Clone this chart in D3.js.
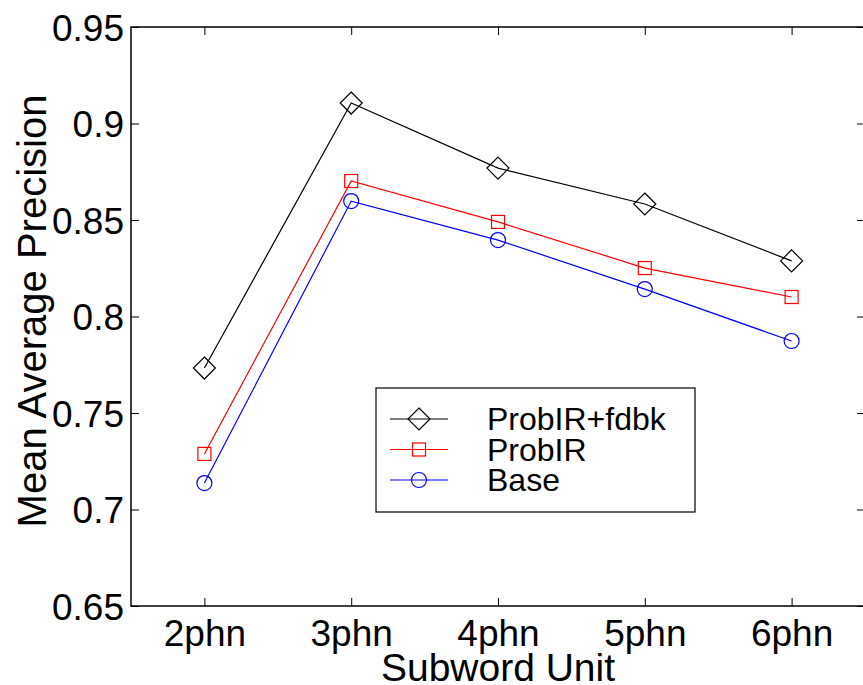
<!DOCTYPE html>
<html><head><meta charset="utf-8">
<script src="https://cdn.jsdelivr.net/npm/d3@7"></script>
<style>body{margin:0;background:#fff}svg{display:block}text{font-family:"Liberation Sans",Arial,sans-serif}</style>
</head><body>
<svg id="c" width="863" height="685"></svg>
<script>
const categories = ["2phn","3phn","4phn","5phn","6phn"];
const probirFdbk = [0.7733,0.9106,0.8769,0.8583,0.8288];
const probir = [0.7288,0.8702,0.8490,0.8251,0.8101];
const base = [0.7137,0.8598,0.8396,0.8142,0.7873];
const yTicks = [0.65,0.7,0.75,0.8,0.85,0.9,0.95];
const seriesNames = ["ProbIR+fdbk","ProbIR","Base"];

const svg = d3.select("#c");
const L=131, R=865, T=27, B=606;
const x = d3.scaleLinear().domain([0.5,5.5]).range([L,R]);
const y = d3.scaleLinear().domain([0.65,0.95]).range([B,T]);
const fs = 37;

svg.append("rect").attr("x",L).attr("y",T).attr("width",R-L).attr("height",B-T)
  .attr("fill","none").attr("stroke","#000").attr("stroke-width",1.5);

const ya = svg.append("g").attr("transform",`translate(${L},0)`)
  .call(d3.axisLeft(y).tickValues(yTicks).tickSize(-8).tickPadding(7).tickFormat(d=>String(+d.toFixed(2))));
ya.select(".domain").remove();
ya.selectAll("text").attr("font-size",fs).attr("fill","#000").attr("font-family","Liberation Sans, Arial, sans-serif").attr("dy","0.36em");
const ya2 = svg.append("g").attr("transform",`translate(${R},0)`)
  .call(d3.axisRight(y).tickValues(yTicks).tickSize(-8).tickFormat(""));
ya2.select(".domain").remove();

const xa = svg.append("g").attr("transform",`translate(0,${B})`)
  .call(d3.axisBottom(x).tickValues([1,2,3,4,5]).tickSize(-8).tickPadding(0).tickFormat((d,i)=>categories[i]));
xa.select(".domain").remove();
xa.selectAll("text").attr("font-size",fs).attr("fill","#000").attr("font-family","Liberation Sans, Arial, sans-serif")
  .attr("dy",null).attr("y",40);
const xa2 = svg.append("g").attr("transform",`translate(0,${T})`)
  .call(d3.axisTop(x).tickValues([1,2,3,4,5]).tickSize(-8).tickFormat(""));
xa2.select(".domain").remove();

svg.append("text").attr("x",(L+R)/2).attr("y",681).attr("text-anchor","middle")
  .attr("font-size",39).text("Subword Unit");
svg.append("text").attr("transform","translate(46,311) rotate(-90)").attr("text-anchor","middle")
  .attr("font-size",40).text("Mean Average Precision");

const line = d3.line().x((d,i)=>x(i+1)).y(d=>y(d));
const colors = ["#000","#ff0000","#0000ff"];
const data = [probirFdbk, probir, base];

function marker(g, type, cx, cy, color){
  if(type===0){
    g.append("path").attr("d",`M${cx},${cy-11}L${cx+11},${cy}L${cx},${cy+11}L${cx-11},${cy}Z`)
     .attr("fill","none").attr("stroke",color).attr("stroke-width",1.2);
  } else if(type===1){
    g.append("rect").attr("x",cx-6.5).attr("y",cy-6.5).attr("width",13).attr("height",13)
     .attr("fill","none").attr("stroke",color).attr("stroke-width",1.2);
  } else {
    g.append("circle").attr("cx",cx).attr("cy",cy).attr("r",7.5)
     .attr("fill","none").attr("stroke",color).attr("stroke-width",1.2);
  }
}

data.forEach((s,k)=>{
  const g = svg.append("g");
  g.append("path").datum(s).attr("d",line).attr("fill","none").attr("stroke",colors[k]).attr("stroke-width",1.2);
  s.forEach((v,i)=>marker(g,k,x(i+1),y(v),colors[k]));
});

const lg = svg.append("g");
lg.append("rect").attr("x",376).attr("y",388).attr("width",319).attr("height",124)
  .attr("fill","#fff").attr("stroke","#000").attr("stroke-width",1.2);
seriesNames.forEach((n,k)=>{
  const cy = 419 + k*30.5;
  lg.append("line").attr("x1",390).attr("x2",448).attr("y1",cy).attr("y2",cy).attr("stroke",colors[k]).attr("stroke-width",1.2);
  marker(lg,k,419,cy,colors[k]);
  lg.append("text").attr("x",487).attr("y",cy+11).attr("font-size",32).text(n);
});
</script>
</body></html>
